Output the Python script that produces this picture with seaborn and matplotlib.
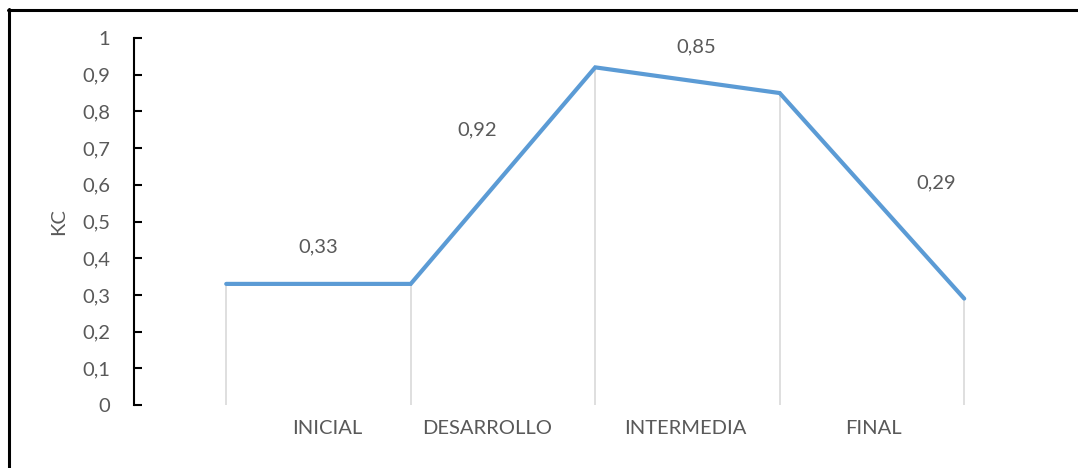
import matplotlib
matplotlib.use("Agg")
import matplotlib.pyplot as plt
from matplotlib.lines import Line2D
import seaborn as sns
import pandas as pd

# Crop coefficient (Kc) across growth stages
stages = ["INICIAL", "DESARROLLO", "INTERMEDIA", "FINAL"]
kc_points = [0.33, 0.33, 0.92, 0.85, 0.29]   # value at start and at the end of each stage
stage_kc = [0.33, 0.92, 0.85, 0.29]          # value reported for each stage
y_ticks = [0, 0.1, 0.2, 0.3, 0.4, 0.5, 0.6, 0.7, 0.8, 0.9, 1]

# Label placement (data coordinates)
label_x = [0.5, 1.36, 2.55, 3.85]
label_y = [0.43, 0.75, 0.975, 0.605]
stage_label_x = [0.547, 1.415, 2.488, 3.507]

sns.set_theme(style="white")
plt.rcParams["font.family"] = ["Lato", "DejaVu Sans"]

text_col = "#595959"
line_col = "#5B9BD5"
fs = 14.5

fig = plt.figure(figsize=(10.78, 4.68), dpi=100)
ax = fig.add_axes([0.1243, 0.1346, 0.98 - 0.1243, 0.9188 - 0.1346])

df = pd.DataFrame({"x": range(len(kc_points)), "kc": kc_points})

# drop lines from each point to zero
ax.vlines(df["x"], 0, df["kc"], color="#D9D9D9", lw=1.2, zorder=1)
sns.lineplot(data=df, x="x", y="kc", ax=ax, color=line_col, lw=3.0,
             zorder=3, solid_joinstyle="miter")

for lx, ly, v in zip(label_x, label_y, stage_kc):
    ax.text(lx, ly, f"{v:.2f}".replace(".", ","), ha="center", va="center",
            fontsize=fs, color=text_col)

ax.set_xlim(-0.5, 4.5)
ax.set_ylim(0, 1)
ax.set_yticks(y_ticks)
ax.set_yticklabels([("%g" % t).replace(".", ",") for t in y_ticks],
                   fontsize=fs, color=text_col)
ax.tick_params(axis="y", direction="in", length=6, width=1.5, color="black",
               pad=17, left=True)

ax.set_xticks(stage_label_x)
ax.set_xticklabels(stages, fontsize=fs, color=text_col)
ax.tick_params(axis="x", length=0, pad=11)

ax.set_xlabel("")
ax.set_ylabel("KC", fontsize=fs, color=text_col, labelpad=11)

for s in ["top", "right", "bottom"]:
    ax.spines[s].set_visible(False)
ax.spines["left"].set_color("black")
ax.spines["left"].set_linewidth(1.5)

# outer frame (top and left edges)
W, H = 1078, 468
fig.add_artist(Line2D([8 / W, 1], [1 - 9.5 / H, 1 - 9.5 / H], color="black", lw=2.2,
                      transform=fig.transFigure))
fig.add_artist(Line2D([9 / W, 9 / W], [0, 1 - 8.5 / H], color="black", lw=2.2,
                      transform=fig.transFigure))

fig.savefig("out.png", dpi=100)
